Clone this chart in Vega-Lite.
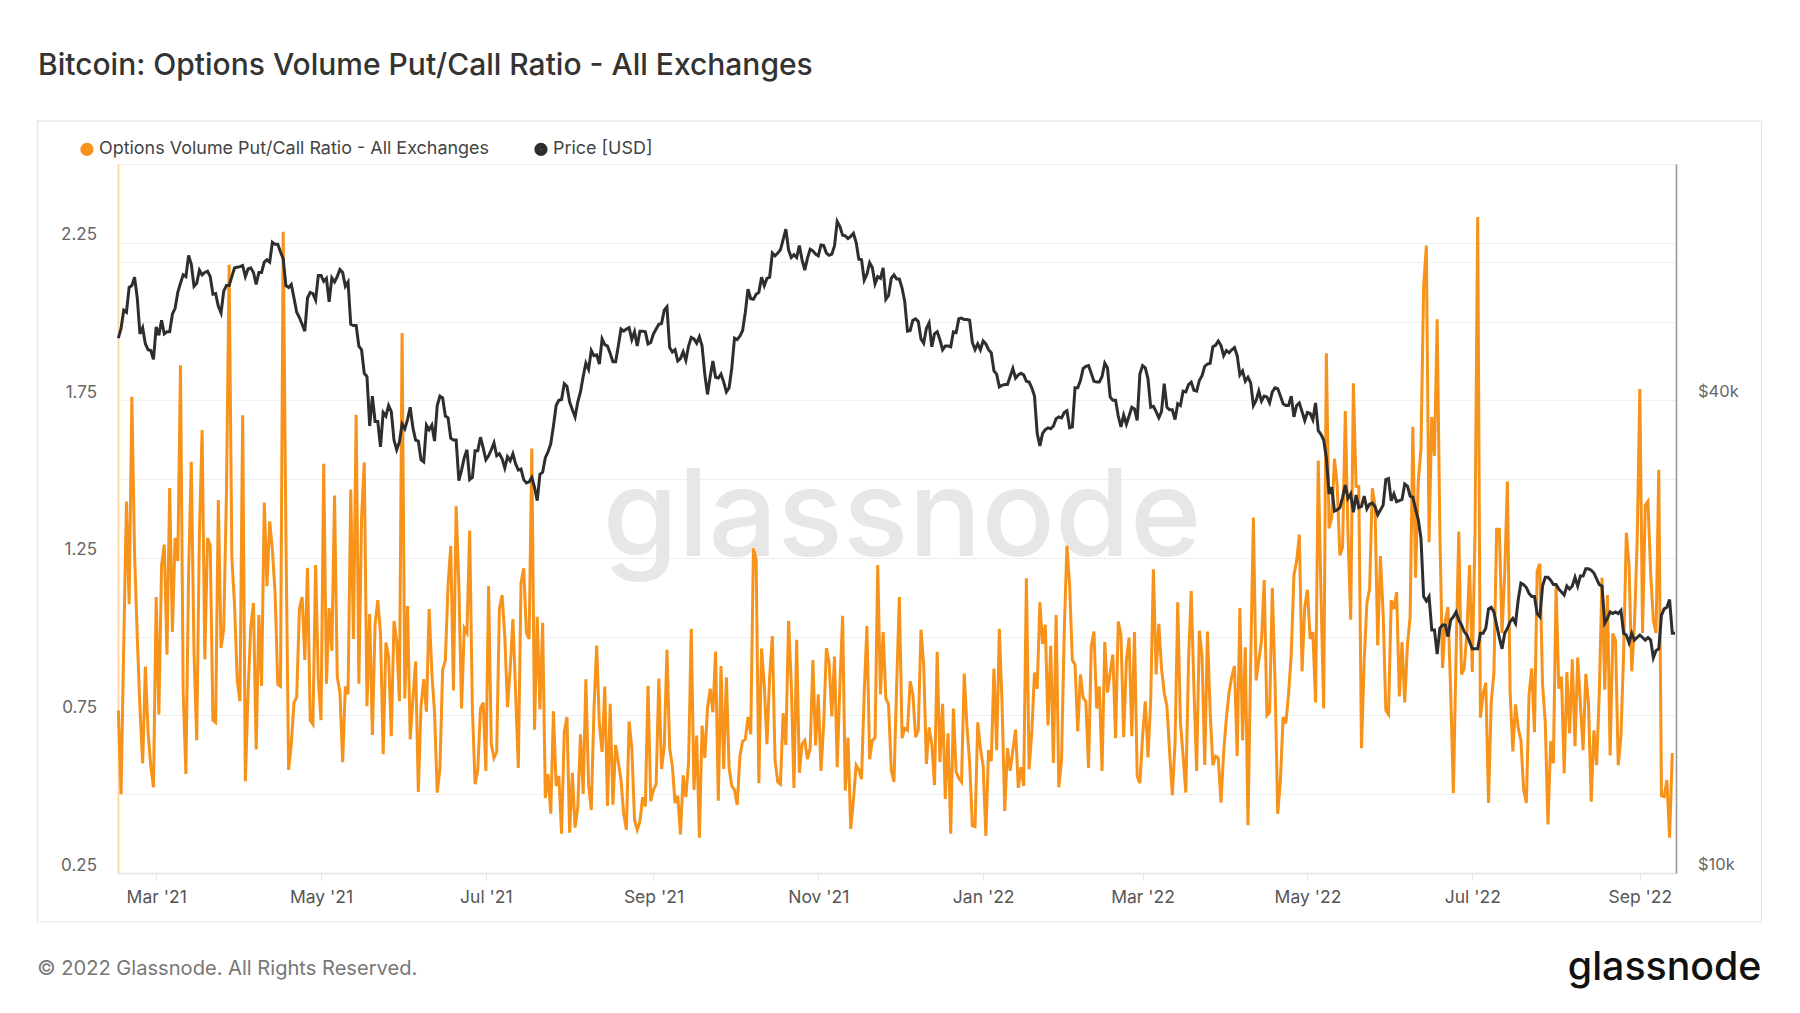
{
"$schema":"https://vega.github.io/schema/vega-lite/v6.json",
"description":"Bitcoin options volume put/call ratio against price",
"width":1558,"height":709,
"autosize":"none",
"padding":{"left":118,"top":164,"right":124,"bottom":140},
"background":"white",
"title":{"text":"Bitcoin: Options Volume Put/Call Ratio - All Exchanges","anchor":"start","frame":"group","dx":-80,"offset":40,"font":"Inter","fontSize":30,"fontWeight":500,"color":"#333333"},
"config":{"view":{"stroke":null},"font":"Inter"},
"data":{"values":[
{"d":"2021-02-15","r":0.766,"p":48000},{"d":"2021-02-16","r":0.5,"p":49400},{"d":"2021-02-17","r":0.974,"p":52100},{"d":"2021-02-18","r":1.429,"p":51800},{"d":"2021-02-19","r":1.103,"p":55700},{"d":"2021-02-20","r":1.761,"p":56000},{"d":"2021-02-21","r":1.265,"p":57400},{"d":"2021-02-22","r":1.0,"p":54000},{"d":"2021-02-23","r":0.772,"p":48600},{"d":"2021-02-24","r":0.598,"p":49500},{"d":"2021-02-25","r":0.905,"p":47200},{"d":"2021-02-26","r":0.697,"p":46400},{"d":"2021-02-27","r":0.589,"p":46300},{"d":"2021-02-28","r":0.522,"p":45100},
{"d":"2021-03-01","r":1.126,"p":49600},{"d":"2021-03-02","r":0.753,"p":48400},{"d":"2021-03-03","r":1.227,"p":50600},{"d":"2021-03-04","r":1.292,"p":48600},{"d":"2021-03-05","r":0.943,"p":48900},{"d":"2021-03-06","r":1.472,"p":48900},{"d":"2021-03-07","r":1.015,"p":51500},{"d":"2021-03-08","r":1.313,"p":52400},{"d":"2021-03-09","r":1.24,"p":54900},{"d":"2021-03-10","r":1.861,"p":56400},{"d":"2021-03-11","r":0.823,"p":57800},{"d":"2021-03-12","r":0.564,"p":57500},{"d":"2021-03-13","r":1.202,"p":61200},{"d":"2021-03-14","r":1.555,"p":59600},{"d":"2021-03-15","r":0.949,"p":55900},{"d":"2021-03-16","r":0.671,"p":56400},{"d":"2021-03-17","r":1.328,"p":58600},{"d":"2021-03-18","r":1.656,"p":57800},{"d":"2021-03-19","r":0.928,"p":58200},{"d":"2021-03-20","r":1.313,"p":58400},{"d":"2021-03-21","r":1.29,"p":57500},{"d":"2021-03-22","r":0.735,"p":54600},{"d":"2021-03-23","r":0.728,"p":54700},{"d":"2021-03-24","r":1.434,"p":52700},{"d":"2021-03-25","r":0.964,"p":51700},{"d":"2021-03-26","r":1.025,"p":55100},{"d":"2021-03-27","r":1.454,"p":56000},{"d":"2021-03-28","r":2.18,"p":56000},{"d":"2021-03-29","r":1.252,"p":57500},{"d":"2021-03-30","r":1.101,"p":59000},{"d":"2021-03-31","r":0.861,"p":59100},
{"d":"2021-04-01","r":0.795,"p":59200},{"d":"2021-04-02","r":1.703,"p":59400},{"d":"2021-04-03","r":0.541,"p":57500},{"d":"2021-04-04","r":0.823,"p":58800},{"d":"2021-04-05","r":1.031,"p":59000},{"d":"2021-04-06","r":1.107,"p":58200},{"d":"2021-04-07","r":0.642,"p":56200},{"d":"2021-04-08","r":1.069,"p":58200},{"d":"2021-04-09","r":0.844,"p":58200},{"d":"2021-04-10","r":1.426,"p":60000},{"d":"2021-04-11","r":1.16,"p":60400},{"d":"2021-04-12","r":1.366,"p":60000},{"d":"2021-04-13","r":1.277,"p":63600},{"d":"2021-04-14","r":1.138,"p":63200},{"d":"2021-04-15","r":0.848,"p":63200},{"d":"2021-04-16","r":0.842,"p":61800},{"d":"2021-04-17","r":2.285,"p":60600},{"d":"2021-04-18","r":1.328,"p":56000},{"d":"2021-04-19","r":0.577,"p":55700},{"d":"2021-04-20","r":0.659,"p":56200},{"d":"2021-04-21","r":0.791,"p":54000},{"d":"2021-04-22","r":0.808,"p":51800},{"d":"2021-04-23","r":1.088,"p":51000},{"d":"2021-04-24","r":1.126,"p":50000},{"d":"2021-04-25","r":0.926,"p":49000},{"d":"2021-04-26","r":1.218,"p":54000},{"d":"2021-04-27","r":0.735,"p":54900},{"d":"2021-04-28","r":0.722,"p":54700},{"d":"2021-04-29","r":1.227,"p":53700},{"d":"2021-04-30","r":0.861,"p":57700},
{"d":"2021-05-01","r":0.735,"p":57700},{"d":"2021-05-02","r":1.549,"p":56700},{"d":"2021-05-03","r":0.851,"p":57200},{"d":"2021-05-04","r":1.091,"p":53400},{"d":"2021-05-05","r":0.955,"p":57300},{"d":"2021-05-06","r":1.448,"p":56600},{"d":"2021-05-07","r":0.873,"p":57500},{"d":"2021-05-08","r":0.823,"p":58700},{"d":"2021-05-09","r":0.602,"p":58200},{"d":"2021-05-10","r":0.842,"p":55900},{"d":"2021-05-11","r":0.817,"p":56600},{"d":"2021-05-12","r":1.467,"p":50000},{"d":"2021-05-13","r":0.993,"p":49800},{"d":"2021-05-14","r":1.704,"p":49800},{"d":"2021-05-15","r":0.851,"p":46900},{"d":"2021-05-16","r":1.378,"p":46400},{"d":"2021-05-17","r":1.553,"p":43300},{"d":"2021-05-18","r":0.779,"p":42900},{"d":"2021-05-19","r":1.072,"p":37100},{"d":"2021-05-20","r":0.688,"p":40500},{"d":"2021-05-21","r":1.038,"p":37600},{"d":"2021-05-22","r":1.116,"p":37600},{"d":"2021-05-23","r":1.012,"p":34900},{"d":"2021-05-24","r":0.627,"p":38600},{"d":"2021-05-25","r":0.981,"p":38200},{"d":"2021-05-26","r":0.937,"p":39400},{"d":"2021-05-27","r":0.684,"p":38700},{"d":"2021-05-28","r":1.05,"p":35600},{"d":"2021-05-29","r":0.987,"p":34600},{"d":"2021-05-30","r":0.795,"p":35400},{"d":"2021-05-31","r":1.964,"p":37300},
{"d":"2021-06-01","r":0.804,"p":36800},{"d":"2021-06-02","r":1.097,"p":37800},{"d":"2021-06-03","r":0.674,"p":39200},{"d":"2021-06-04","r":0.804,"p":36900},{"d":"2021-06-05","r":0.921,"p":35600},{"d":"2021-06-06","r":0.507,"p":35500},{"d":"2021-06-07","r":0.779,"p":33600},{"d":"2021-06-08","r":0.865,"p":33400},{"d":"2021-06-09","r":0.762,"p":37200},{"d":"2021-06-10","r":1.088,"p":36700},{"d":"2021-06-11","r":0.886,"p":37200},{"d":"2021-06-12","r":0.76,"p":35500},{"d":"2021-06-13","r":0.505,"p":39400},{"d":"2021-06-14","r":0.583,"p":40500},{"d":"2021-06-15","r":0.895,"p":40300},{"d":"2021-06-16","r":0.924,"p":38200},{"d":"2021-06-17","r":1.164,"p":38000},{"d":"2021-06-18","r":1.288,"p":35800},{"d":"2021-06-19","r":0.829,"p":35600},{"d":"2021-06-20","r":1.414,"p":35600},{"d":"2021-06-21","r":1.164,"p":31600},{"d":"2021-06-22","r":0.772,"p":32600},{"d":"2021-06-23","r":1.027,"p":33800},{"d":"2021-06-24","r":1.012,"p":34600},{"d":"2021-06-25","r":1.337,"p":31700},{"d":"2021-06-26","r":0.772,"p":31900},{"d":"2021-06-27","r":0.532,"p":34500},{"d":"2021-06-28","r":0.577,"p":34500},{"d":"2021-06-29","r":0.772,"p":35900},{"d":"2021-06-30","r":0.791,"p":34800},
{"d":"2021-07-01","r":0.574,"p":33600},{"d":"2021-07-02","r":1.161,"p":34000},{"d":"2021-07-03","r":0.659,"p":34600},{"d":"2021-07-04","r":0.615,"p":35300},{"d":"2021-07-05","r":0.634,"p":34000},{"d":"2021-07-06","r":1.088,"p":34200},{"d":"2021-07-07","r":1.132,"p":33700},{"d":"2021-07-08","r":1.0,"p":32800},{"d":"2021-07-09","r":0.776,"p":33900},{"d":"2021-07-10","r":0.899,"p":33500},{"d":"2021-07-11","r":1.056,"p":34200},{"d":"2021-07-12","r":0.823,"p":33200},{"d":"2021-07-13","r":0.583,"p":32600},{"d":"2021-07-14","r":1.17,"p":32700},{"d":"2021-07-15","r":1.217,"p":31700},{"d":"2021-07-16","r":1.012,"p":31400},{"d":"2021-07-17","r":0.993,"p":31500},{"d":"2021-07-18","r":1.597,"p":31900},{"d":"2021-07-19","r":0.705,"p":31000},{"d":"2021-07-20","r":1.063,"p":29800},{"d":"2021-07-21","r":0.769,"p":32200},{"d":"2021-07-22","r":1.044,"p":32400},{"d":"2021-07-23","r":0.488,"p":33800},{"d":"2021-07-24","r":0.564,"p":34400},{"d":"2021-07-25","r":0.438,"p":35200},{"d":"2021-07-26","r":0.763,"p":37100},{"d":"2021-07-27","r":0.526,"p":39400},{"d":"2021-07-28","r":0.558,"p":40000},{"d":"2021-07-29","r":0.375,"p":40100},{"d":"2021-07-30","r":0.697,"p":42000},{"d":"2021-07-31","r":0.745,"p":41700},
{"d":"2021-08-01","r":0.378,"p":39800},{"d":"2021-08-02","r":0.568,"p":38900},{"d":"2021-08-03","r":0.394,"p":38100},{"d":"2021-08-04","r":0.457,"p":39800},{"d":"2021-08-05","r":0.69,"p":41000},{"d":"2021-08-06","r":0.501,"p":42900},{"d":"2021-08-07","r":0.865,"p":44600},{"d":"2021-08-08","r":0.532,"p":43800},{"d":"2021-08-09","r":0.45,"p":46300},{"d":"2021-08-10","r":0.772,"p":45600},{"d":"2021-08-11","r":0.972,"p":45700},{"d":"2021-08-12","r":0.722,"p":44500},{"d":"2021-08-13","r":0.634,"p":47900},{"d":"2021-08-14","r":0.842,"p":47100},{"d":"2021-08-15","r":0.463,"p":46900},{"d":"2021-08-16","r":0.787,"p":45900},{"d":"2021-08-17","r":0.467,"p":44800},{"d":"2021-08-18","r":0.656,"p":44800},{"d":"2021-08-19","r":0.602,"p":46900},{"d":"2021-08-20","r":0.545,"p":49300},{"d":"2021-08-21","r":0.438,"p":49000},{"d":"2021-08-22","r":0.387,"p":49300},{"d":"2021-08-23","r":0.731,"p":49500},{"d":"2021-08-24","r":0.646,"p":47800},{"d":"2021-08-25","r":0.419,"p":48900},{"d":"2021-08-26","r":0.387,"p":46900},{"d":"2021-08-27","r":0.413,"p":49000},{"d":"2021-08-28","r":0.491,"p":49000},{"d":"2021-08-29","r":0.461,"p":48900},{"d":"2021-08-30","r":0.844,"p":47200},{"d":"2021-08-31","r":0.478,"p":47400},
{"d":"2021-09-01","r":0.514,"p":48600},{"d":"2021-09-02","r":0.532,"p":49300},{"d":"2021-09-03","r":0.867,"p":50000},{"d":"2021-09-04","r":0.58,"p":50100},{"d":"2021-09-05","r":0.652,"p":52100},{"d":"2021-09-06","r":0.958,"p":52600},{"d":"2021-09-07","r":0.646,"p":46700},{"d":"2021-09-08","r":0.589,"p":46100},{"d":"2021-09-09","r":0.472,"p":46400},{"d":"2021-09-10","r":0.495,"p":44900},{"d":"2021-09-11","r":0.372,"p":45200},{"d":"2021-09-12","r":0.56,"p":46100},{"d":"2021-09-13","r":0.491,"p":45000},{"d":"2021-09-14","r":0.602,"p":46900},{"d":"2021-09-15","r":1.025,"p":48100},{"d":"2021-09-16","r":0.514,"p":47900},{"d":"2021-09-17","r":0.686,"p":47300},{"d":"2021-09-18","r":0.362,"p":48200},{"d":"2021-09-19","r":0.718,"p":46900},{"d":"2021-09-20","r":0.615,"p":43200},{"d":"2021-09-21","r":0.772,"p":40700},{"d":"2021-09-22","r":0.835,"p":42900},{"d":"2021-09-23","r":0.76,"p":44900},{"d":"2021-09-24","r":0.953,"p":42800},{"d":"2021-09-25","r":0.479,"p":42700},{"d":"2021-09-26","r":0.907,"p":43200},{"d":"2021-09-27","r":0.58,"p":42200},{"d":"2021-09-28","r":0.871,"p":41000},{"d":"2021-09-29","r":0.583,"p":41500},{"d":"2021-09-30","r":0.526,"p":44000},
{"d":"2021-10-01","r":0.514,"p":48000},{"d":"2021-10-02","r":0.466,"p":47800},{"d":"2021-10-03","r":0.621,"p":48300},{"d":"2021-10-04","r":0.668,"p":49100},{"d":"2021-10-05","r":0.674,"p":51800},{"d":"2021-10-06","r":0.745,"p":55400},{"d":"2021-10-07","r":0.69,"p":53900},{"d":"2021-10-08","r":1.28,"p":53800},{"d":"2021-10-09","r":1.246,"p":54600},{"d":"2021-10-10","r":0.535,"p":54900},{"d":"2021-10-11","r":0.962,"p":57400},{"d":"2021-10-12","r":0.848,"p":56000},{"d":"2021-10-13","r":0.659,"p":57200},{"d":"2021-10-14","r":0.873,"p":57400},{"d":"2021-10-15","r":1.002,"p":61600},{"d":"2021-10-16","r":0.608,"p":61100},{"d":"2021-10-17","r":0.539,"p":61600},{"d":"2021-10-18","r":0.532,"p":62200},{"d":"2021-10-19","r":0.757,"p":64100},{"d":"2021-10-20","r":0.656,"p":66100},{"d":"2021-10-21","r":1.05,"p":62200},{"d":"2021-10-22","r":0.848,"p":60800},{"d":"2021-10-23","r":0.52,"p":61300},{"d":"2021-10-24","r":0.99,"p":60800},{"d":"2021-10-25","r":0.568,"p":63000},{"d":"2021-10-26","r":0.659,"p":60400},{"d":"2021-10-27","r":0.671,"p":58600},{"d":"2021-10-28","r":0.611,"p":60700},{"d":"2021-10-29","r":0.646,"p":62300},{"d":"2021-10-30","r":0.926,"p":62000},{"d":"2021-10-31","r":0.655,"p":61400},
{"d":"2021-11-01","r":0.817,"p":61100},{"d":"2021-11-02","r":0.574,"p":63100},{"d":"2021-11-03","r":0.722,"p":63000},{"d":"2021-11-04","r":0.964,"p":61600},{"d":"2021-11-05","r":0.918,"p":61200},{"d":"2021-11-06","r":0.747,"p":61400},{"d":"2021-11-07","r":0.937,"p":62900},{"d":"2021-11-08","r":0.586,"p":67600},{"d":"2021-11-09","r":0.848,"p":66600},{"d":"2021-11-10","r":1.066,"p":64900},{"d":"2021-11-11","r":0.511,"p":64800},{"d":"2021-11-12","r":0.68,"p":64300},{"d":"2021-11-13","r":0.39,"p":64700},{"d":"2021-11-14","r":0.482,"p":65300},{"d":"2021-11-15","r":0.592,"p":63600},{"d":"2021-11-16","r":0.577,"p":60500},{"d":"2021-11-17","r":0.548,"p":60400},{"d":"2021-11-18","r":0.823,"p":56900},{"d":"2021-11-19","r":1.034,"p":57900},{"d":"2021-11-20","r":0.611,"p":59900},{"d":"2021-11-21","r":0.671,"p":59000},{"d":"2021-11-22","r":0.678,"p":56300},{"d":"2021-11-23","r":1.227,"p":57500},{"d":"2021-11-24","r":0.817,"p":57200},{"d":"2021-11-25","r":1.015,"p":59000},{"d":"2021-11-26","r":0.804,"p":53800},{"d":"2021-11-27","r":0.785,"p":54400},{"d":"2021-11-28","r":0.577,"p":57200},{"d":"2021-11-29","r":0.539,"p":57800},{"d":"2021-11-30","r":0.848,"p":57100},
{"d":"2021-12-01","r":1.126,"p":57100},{"d":"2021-12-02","r":0.678,"p":55600},{"d":"2021-12-03","r":0.709,"p":53400},{"d":"2021-12-04","r":0.703,"p":49000},{"d":"2021-12-05","r":0.858,"p":49100},{"d":"2021-12-06","r":0.817,"p":50600},{"d":"2021-12-07","r":0.681,"p":50800},{"d":"2021-12-08","r":0.703,"p":50400},{"d":"2021-12-09","r":1.022,"p":47900},{"d":"2021-12-10","r":0.911,"p":47300},{"d":"2021-12-11","r":0.596,"p":49400},{"d":"2021-12-12","r":0.712,"p":50200},{"d":"2021-12-13","r":0.659,"p":46800},{"d":"2021-12-14","r":0.529,"p":48600},{"d":"2021-12-15","r":0.952,"p":48900},{"d":"2021-12-16","r":0.602,"p":47800},{"d":"2021-12-17","r":0.787,"p":46400},{"d":"2021-12-18","r":0.485,"p":46900},{"d":"2021-12-19","r":0.693,"p":46900},{"d":"2021-12-20","r":0.375,"p":46800},{"d":"2021-12-21","r":0.772,"p":48900},{"d":"2021-12-22","r":0.57,"p":48800},{"d":"2021-12-23","r":0.551,"p":50800},{"d":"2021-12-24","r":0.539,"p":50900},{"d":"2021-12-25","r":0.883,"p":50700},{"d":"2021-12-26","r":0.716,"p":50700},{"d":"2021-12-27","r":0.602,"p":50600},{"d":"2021-12-28","r":0.4,"p":47400},{"d":"2021-12-29","r":0.397,"p":46400},{"d":"2021-12-30","r":0.728,"p":47200},{"d":"2021-12-31","r":0.646,"p":46400},
{"d":"2022-01-01","r":0.589,"p":47600},{"d":"2022-01-02","r":0.368,"p":47200},{"d":"2022-01-03","r":0.64,"p":46400},{"d":"2022-01-04","r":0.605,"p":46000},{"d":"2022-01-05","r":0.899,"p":43600},{"d":"2022-01-06","r":0.64,"p":43200},{"d":"2022-01-07","r":1.025,"p":41600},{"d":"2022-01-08","r":0.785,"p":41800},{"d":"2022-01-09","r":0.447,"p":41900},{"d":"2022-01-10","r":0.646,"p":41900},{"d":"2022-01-11","r":0.574,"p":42900},{"d":"2022-01-12","r":0.64,"p":43900},{"d":"2022-01-13","r":0.705,"p":42700},{"d":"2022-01-14","r":0.52,"p":43100},{"d":"2022-01-15","r":0.586,"p":43300},{"d":"2022-01-16","r":0.526,"p":43100},{"d":"2022-01-17","r":1.185,"p":42300},{"d":"2022-01-18","r":0.579,"p":42200},{"d":"2022-01-19","r":0.697,"p":41500},{"d":"2022-01-20","r":0.886,"p":40500},{"d":"2022-01-21","r":0.835,"p":36300},{"d":"2022-01-22","r":1.109,"p":35000},{"d":"2022-01-23","r":0.977,"p":36300},{"d":"2022-01-24","r":1.038,"p":36700},{"d":"2022-01-25","r":0.718,"p":36900},{"d":"2022-01-26","r":0.971,"p":36800},{"d":"2022-01-27","r":0.599,"p":37100},{"d":"2022-01-28","r":1.069,"p":37900},{"d":"2022-01-29","r":0.522,"p":38100},{"d":"2022-01-30","r":0.608,"p":38000},{"d":"2022-01-31","r":1.012,"p":38600},
{"d":"2022-02-01","r":1.288,"p":38800},{"d":"2022-02-02","r":1.164,"p":36900},{"d":"2022-02-03","r":0.926,"p":37000},{"d":"2022-02-04","r":0.911,"p":41500},{"d":"2022-02-05","r":0.699,"p":41500},{"d":"2022-02-06","r":0.88,"p":42400},{"d":"2022-02-07","r":0.806,"p":43900},{"d":"2022-02-08","r":0.795,"p":44200},{"d":"2022-02-09","r":0.583,"p":44300},{"d":"2022-02-10","r":0.968,"p":43300},{"d":"2022-02-11","r":1.016,"p":42300},{"d":"2022-02-12","r":0.772,"p":42200},{"d":"2022-02-13","r":0.842,"p":42200},{"d":"2022-02-14","r":0.574,"p":42900},{"d":"2022-02-15","r":0.983,"p":44600},{"d":"2022-02-16","r":0.823,"p":44000},{"d":"2022-02-17","r":0.886,"p":40400},{"d":"2022-02-18","r":0.943,"p":40000},{"d":"2022-02-19","r":0.678,"p":40000},{"d":"2022-02-20","r":1.048,"p":38200},{"d":"2022-02-21","r":1.006,"p":37000},{"d":"2022-02-22","r":0.681,"p":38300},{"d":"2022-02-23","r":0.924,"p":37300},{"d":"2022-02-24","r":0.997,"p":38200},{"d":"2022-02-25","r":0.684,"p":39200},{"d":"2022-02-26","r":1.015,"p":39000},{"d":"2022-02-27","r":0.558,"p":37700},{"d":"2022-02-28","r":0.535,"p":43200},
{"d":"2022-03-01","r":0.684,"p":44300},{"d":"2022-03-02","r":0.795,"p":44000},{"d":"2022-03-03","r":0.617,"p":42600},{"d":"2022-03-04","r":0.798,"p":39200},{"d":"2022-03-05","r":1.214,"p":39300},{"d":"2022-03-06","r":0.88,"p":38700},{"d":"2022-03-07","r":1.041,"p":38000},{"d":"2022-03-08","r":0.899,"p":38700},{"d":"2022-03-09","r":0.823,"p":42000},{"d":"2022-03-10","r":0.779,"p":39200},{"d":"2022-03-11","r":0.634,"p":38900},{"d":"2022-03-12","r":0.497,"p":38900},{"d":"2022-03-13","r":0.659,"p":37800},{"d":"2022-03-14","r":1.109,"p":39600},{"d":"2022-03-15","r":0.728,"p":39400},{"d":"2022-03-16","r":0.621,"p":41100},{"d":"2022-03-17","r":0.505,"p":41000},{"d":"2022-03-18","r":0.924,"p":41900},{"d":"2022-03-19","r":1.145,"p":42200},{"d":"2022-03-20","r":0.835,"p":41200},{"d":"2022-03-21","r":0.574,"p":41100},{"d":"2022-03-22","r":1.019,"p":42400},{"d":"2022-03-23","r":0.937,"p":43000},{"d":"2022-03-24","r":0.593,"p":44200},{"d":"2022-03-25","r":1.016,"p":44500},{"d":"2022-03-26","r":0.76,"p":44600},{"d":"2022-03-27","r":0.592,"p":46800},{"d":"2022-03-28","r":0.621,"p":47000},{"d":"2022-03-29","r":0.615,"p":47600},{"d":"2022-03-30","r":0.473,"p":47000},{"d":"2022-03-31","r":0.634,"p":45600},
{"d":"2022-04-01","r":0.741,"p":46300},{"d":"2022-04-02","r":0.823,"p":46000},{"d":"2022-04-03","r":0.873,"p":46400},{"d":"2022-04-04","r":0.907,"p":46700},{"d":"2022-04-05","r":0.621,"p":45600},{"d":"2022-04-06","r":1.091,"p":43100},{"d":"2022-04-07","r":0.671,"p":43600},{"d":"2022-04-08","r":0.966,"p":42300},{"d":"2022-04-09","r":0.402,"p":42800},{"d":"2022-04-10","r":0.924,"p":42100},{"d":"2022-04-11","r":1.378,"p":39400},{"d":"2022-04-12","r":0.861,"p":40000},{"d":"2022-04-13","r":0.924,"p":41100},{"d":"2022-04-14","r":0.987,"p":39900},{"d":"2022-04-15","r":1.18,"p":40500},{"d":"2022-04-16","r":0.75,"p":40400},{"d":"2022-04-17","r":0.76,"p":39700},{"d":"2022-04-18","r":1.155,"p":41000},{"d":"2022-04-19","r":0.861,"p":41500},{"d":"2022-04-20","r":0.438,"p":41400},{"d":"2022-04-21","r":0.545,"p":40500},{"d":"2022-04-22","r":0.745,"p":39600},{"d":"2022-04-23","r":0.725,"p":39400},{"d":"2022-04-24","r":0.817,"p":39400},{"d":"2022-04-25","r":0.943,"p":40500},{"d":"2022-04-26","r":1.195,"p":38100},{"d":"2022-04-27","r":1.24,"p":39400},{"d":"2022-04-28","r":1.324,"p":39700},{"d":"2022-04-29","r":0.89,"p":38700},{"d":"2022-04-30","r":1.094,"p":37700},
{"d":"2022-05-01","r":1.149,"p":38600},{"d":"2022-05-02","r":0.993,"p":38500},{"d":"2022-05-03","r":1.015,"p":37800},{"d":"2022-05-04","r":0.791,"p":39700},{"d":"2022-05-05","r":1.559,"p":36600},{"d":"2022-05-06","r":1.138,"p":36200},{"d":"2022-05-07","r":0.772,"p":35600},{"d":"2022-05-08","r":1.899,"p":33800},{"d":"2022-05-09","r":1.344,"p":30400},{"d":"2022-05-10","r":1.378,"p":31000},{"d":"2022-05-11","r":1.565,"p":28900},{"d":"2022-05-12","r":1.479,"p":29000},{"d":"2022-05-13","r":1.258,"p":29200},{"d":"2022-05-14","r":1.284,"p":30100},{"d":"2022-05-15","r":1.716,"p":31200},{"d":"2022-05-16","r":1.328,"p":30000},{"d":"2022-05-17","r":1.054,"p":30400},{"d":"2022-05-18","r":1.804,"p":28800},{"d":"2022-05-19","r":1.477,"p":30300},{"d":"2022-05-20","r":1.476,"p":29200},{"d":"2022-05-21","r":0.646,"p":29300},{"d":"2022-05-22","r":0.924,"p":30200},{"d":"2022-05-23","r":1.107,"p":29100},{"d":"2022-05-24","r":1.151,"p":29500},{"d":"2022-05-25","r":1.471,"p":29600},{"d":"2022-05-26","r":1.416,"p":29300},{"d":"2022-05-27","r":0.972,"p":28600},{"d":"2022-05-28","r":1.256,"p":29000},{"d":"2022-05-29","r":1.075,"p":29400},{"d":"2022-05-30","r":0.766,"p":31700},{"d":"2022-05-31","r":0.753,"p":31800},
{"d":"2022-06-01","r":1.116,"p":29800},{"d":"2022-06-02","r":1.088,"p":30400},{"d":"2022-06-03","r":1.142,"p":29700},{"d":"2022-06-04","r":0.81,"p":29800},{"d":"2022-06-05","r":0.983,"p":29900},{"d":"2022-06-06","r":0.791,"p":31300},{"d":"2022-06-07","r":0.974,"p":31100},{"d":"2022-06-08","r":1.063,"p":30200},{"d":"2022-06-09","r":1.666,"p":30100},{"d":"2022-06-10","r":1.187,"p":29100},{"d":"2022-06-11","r":1.492,"p":28200},{"d":"2022-06-12","r":1.593,"p":26700},{"d":"2022-06-13","r":2.111,"p":22500},{"d":"2022-06-14","r":2.241,"p":22200},{"d":"2022-06-15","r":1.3,"p":22500},{"d":"2022-06-16","r":1.697,"p":20400},{"d":"2022-06-17","r":1.574,"p":20400},{"d":"2022-06-18","r":2.007,"p":19000},{"d":"2022-06-19","r":1.328,"p":20500},{"d":"2022-06-20","r":0.901,"p":20700},{"d":"2022-06-21","r":1.05,"p":20700},{"d":"2022-06-22","r":1.094,"p":20000},{"d":"2022-06-23","r":0.823,"p":21000},{"d":"2022-06-24","r":0.503,"p":21200},{"d":"2022-06-25","r":0.949,"p":21500},{"d":"2022-06-26","r":1.334,"p":21000},{"d":"2022-06-27","r":0.88,"p":20700},{"d":"2022-06-28","r":0.899,"p":20300},{"d":"2022-06-29","r":1.012,"p":20100},{"d":"2022-06-30","r":1.227,"p":19700},
{"d":"2022-07-01","r":0.888,"p":19300},{"d":"2022-07-02","r":1.328,"p":19300},{"d":"2022-07-03","r":2.332,"p":19300},{"d":"2022-07-04","r":0.743,"p":20200},{"d":"2022-07-05","r":0.817,"p":20200},{"d":"2022-07-06","r":0.854,"p":20500},{"d":"2022-07-07","r":0.472,"p":21700},{"d":"2022-07-08","r":0.791,"p":21800},{"d":"2022-07-09","r":0.886,"p":21500},{"d":"2022-07-10","r":1.341,"p":20700},{"d":"2022-07-11","r":1.341,"p":19950},{"d":"2022-07-12","r":1.012,"p":19300},{"d":"2022-07-13","r":1.202,"p":20200},{"d":"2022-07-14","r":1.492,"p":20500},{"d":"2022-07-15","r":0.823,"p":20900},{"d":"2022-07-16","r":0.636,"p":21100},{"d":"2022-07-17","r":0.785,"p":20800},{"d":"2022-07-18","r":0.709,"p":22300},{"d":"2022-07-19","r":0.671,"p":23400},{"d":"2022-07-20","r":0.514,"p":23300},{"d":"2022-07-21","r":0.472,"p":23100},{"d":"2022-07-22","r":0.817,"p":22700},{"d":"2022-07-23","r":0.899,"p":22500},{"d":"2022-07-24","r":0.697,"p":22500},{"d":"2022-07-25","r":1.208,"p":21400},{"d":"2022-07-26","r":1.231,"p":21200},{"d":"2022-07-27","r":0.848,"p":23200},{"d":"2022-07-28","r":0.728,"p":23800},{"d":"2022-07-29","r":0.404,"p":23800},{"d":"2022-07-30","r":0.668,"p":23600},{"d":"2022-07-31","r":0.598,"p":23300},
{"d":"2022-08-01","r":1.16,"p":23300},{"d":"2022-08-02","r":0.835,"p":23000},{"d":"2022-08-03","r":0.873,"p":22800},{"d":"2022-08-04","r":0.567,"p":22600},{"d":"2022-08-05","r":0.888,"p":23200},{"d":"2022-08-06","r":0.693,"p":23000},{"d":"2022-08-07","r":0.928,"p":23200},{"d":"2022-08-08","r":0.652,"p":23800},{"d":"2022-08-09","r":0.934,"p":23200},{"d":"2022-08-10","r":0.785,"p":23900},{"d":"2022-08-11","r":0.64,"p":23900},{"d":"2022-08-12","r":0.882,"p":24400},{"d":"2022-08-13","r":0.785,"p":24400},{"d":"2022-08-14","r":0.476,"p":24300},{"d":"2022-08-15","r":0.703,"p":24100},{"d":"2022-08-16","r":0.592,"p":23700},{"d":"2022-08-17","r":0.823,"p":23300},{"d":"2022-08-18","r":1.187,"p":23200},{"d":"2022-08-19","r":0.832,"p":20800},{"d":"2022-08-20","r":1.132,"p":21100},{"d":"2022-08-21","r":0.623,"p":21500},{"d":"2022-08-22","r":1.01,"p":21400},{"d":"2022-08-23","r":0.987,"p":21500},{"d":"2022-08-24","r":0.592,"p":21400},{"d":"2022-08-25","r":0.684,"p":21600},{"d":"2022-08-26","r":0.949,"p":20200},{"d":"2022-08-27","r":1.33,"p":20100},{"d":"2022-08-28","r":1.227,"p":19650},{"d":"2022-08-29","r":0.89,"p":20200},{"d":"2022-08-30","r":1.038,"p":19800},{"d":"2022-08-31","r":1.303,"p":19950},
{"d":"2022-09-01","r":1.786,"p":20100},{"d":"2022-09-02","r":1.012,"p":19950},{"d":"2022-09-03","r":1.416,"p":19800},{"d":"2022-09-04","r":1.429,"p":19950},{"d":"2022-09-05","r":1.202,"p":19800},{"d":"2022-09-06","r":1.05,"p":18800},{"d":"2022-09-07","r":1.012,"p":19200},{"d":"2022-09-08","r":1.53,"p":19300},{"d":"2022-09-09","r":0.495,"p":21300},{"d":"2022-09-10","r":0.492,"p":21700},{"d":"2022-09-11","r":0.545,"p":21800},{"d":"2022-09-12","r":0.362,"p":22300},{"d":"2022-09-13","r":0.631,"p":20200},{"d":"2022-09-14","r":null,"p":20200}
]},
"encoding":{
"x":{"field":"d","type":"temporal","title":null,
"scale":{"domain":["2021-02-14T21:00:00Z","2022-09-14T09:00:00Z"]},
"axis":{"values":["2021-03-01","2021-05-01","2021-07-01","2021-09-01","2021-11-01","2022-01-01","2022-03-01","2022-05-01","2022-07-01","2022-09-01"],"format":"%b '%y","grid":false,"domainColor":"#e3e3e3","domainWidth":1.5,"tickColor":"#e6e6e6","tickSize":7,"labelFont":"Inter","labelFontSize":17.5,"labelColor":"#555555","labelPadding":8,"labelFlush":false,"labelOverlap":false,"labelAlign":"center"}}
},
"layer":[
{"encoding":{"y":{"field":"r","type":"quantitative","title":null,"scale":{"domain":[0.25,2.5]},
"axis":{"values":[0.25,0.5,0.75,1,1.25,1.5,1.75,2,2.25,2.5],"orient":"left","labelExpr":"(datum.value*4)%2==1 ? format(datum.value,'.2f') : ''","grid":true,"gridColor":"#eeeeee","gridWidth":1.2,"ticks":false,"domainColor":"#fcd29f","domainWidth":1.6,"labelFont":"Inter","labelFontSize":17,"labelColor":"#666666","labelPadding":21.5,"labelOffset":-8,"labelOverlap":false,"labelFlush":false}}},
"layer":[
{"data":{"values":[{"d":"2021-01-16","d2":"2022-10-16","r":2.636,"r2":0.0945}]},
"mark":{"type":"rect","fill":"transparent","stroke":"#e4e4e4","strokeWidth":1.2},
"encoding":{"x2":{"field":"d2"},"y2":{"field":"r2"}}},
{"data":{"values":[{"d":"2021-12-02","r":1.256,"t":"glassnode"}]},
"mark":{"type":"text","font":"Inter","fontWeight":500,"fontSize":121.5,"align":"center","baseline":"alphabetic","color":"#e7e7e7"},
"encoding":{"text":{"field":"t"}}},
{"data":{"values":[{"d":"2021-01-16","r":-0.054,"t":"© 2022 Glassnode. All Rights Reserved."}]},
"mark":{"type":"text","font":"Inter","fontSize":20.1,"align":"left","baseline":"middle","color":"#777777"},
"encoding":{"text":{"field":"t"}}},
{"data":{"values":[{"d":"2022-10-16","r":-0.05,"t":"glassnode"}]},
"mark":{"type":"text","font":"Inter","fontWeight":500,"fontSize":39.3,"align":"right","baseline":"middle","color":"#111111"},
"encoding":{"text":{"field":"t"}}},
{"mark":{"type":"line","interpolate":"linear"},
"encoding":{"strokeWidth":{"value":3},
"color":{"datum":"Options Volume Put/Call Ratio - All Exchanges",
"scale":{"domain":["Options Volume Put/Call Ratio - All Exchanges","Price [USD]"],"range":["#f7931a","#2e2e2e"]},
"legend":{"orient":"none","legendX":-40,"legendY":-24,"direction":"horizontal","title":null,"symbolType":"circle","symbolSize":38.5,"symbolStrokeWidth":7,"labelFont":"Inter","labelFontSize":17.95,"labelColor":"#444444","labelLimit":600,"columnPadding":34,"labelOffset":3}}}}
]},
{"mark":{"type":"line","interpolate":"linear"},
"encoding":{"strokeWidth":{"value":3},"y":{"field":"p","type":"quantitative","title":null,"scale":{"type":"log","base":2,"domain":[10000,80000]},
"axis":{"orient":"right","values":[10000,40000,60000],"labelExpr":"datum.value==10000?'$10k':datum.value==40000?'$40k':''","grid":true,"gridColor":"#f0f0f0","gridWidth":1.2,"ticks":false,"domainColor":"#999999","domainWidth":1.6,"labelFont":"Inter","labelFontSize":16.5,"labelColor":"#666666","labelPadding":21.5,"labelOffset":-9,"labelOverlap":false,"labelFlush":false}},
"color":{"datum":"Price [USD]"}}}
],
"resolve":{"scale":{"y":"independent"}}
}
